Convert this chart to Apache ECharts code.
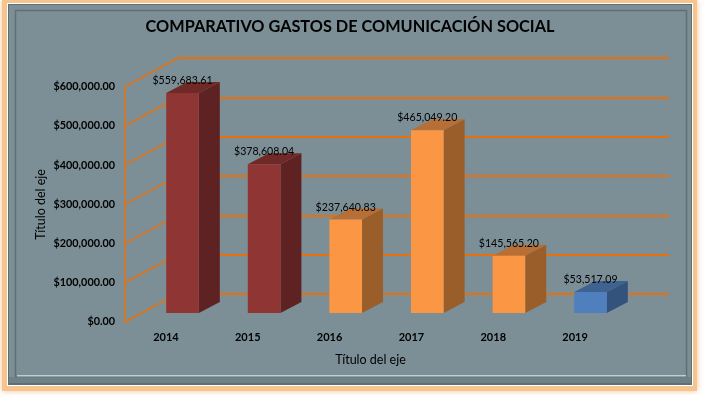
<!DOCTYPE html>
<html>
<head>
<meta charset="utf-8">
<style>html,body{margin:0;padding:0;background:#fff}#c{width:705px;height:395px}</style>
<script src="https://cdn.jsdelivr.net/npm/echarts@6/dist/echarts.min.js"></script>
</head>
<body>
<div id="c"></div>
<script>
var categories = ['2014','2015','2016','2017','2018','2019'];
var values = [559683.61,378608.04,237640.83,465049.20,145565.20,53517.09];
var tickValues = [0,100000,200000,300000,400000,500000,600000];
var frontFaces = ['#8F3533','#8F3533','#FB9644','#FB9644','#FB9644','#4F7FBD'];
var sideFaces = ['#5E2222','#5E2222','#9A5E2B','#9A5E2B','#9A5E2B','#33527C'];
var topFaces = ['#6F2A28','#6F2A28','#B66F36','#B66F36','#B66F36','#3E6391'];
var titleText = 'COMPARATIVO GASTOS DE COMUNICACIÓN SOCIAL';
var axisTitle = 'Título del eje';

var FONT = 'Lato';
var ORANGE = '#E8700C';
var front = {left:125, top:86.7, width:491, height:235.3};
var back = {left:178, top:58, width:491, height:236};
var barPlane = {left:141.7, top:77.2, width:489.6, height:235.8};
var BAR_DX = 21, BAR_DY = 11;

function money(v){
  return '$' + v.toLocaleString('en-US',{minimumFractionDigits:2,maximumFractionDigits:2});
}

var frame = [
  {type:'rect', z:-10, shape:{x:2,y:0,width:695,height:391}, style:{fill:'#F6C48F', shadowBlur:6, shadowColor:'rgba(240,170,100,0.7)'}},
  {type:'rect', z:-9, shape:{x:7,y:3,width:686,height:383}, style:{fill:'#FFFFFF'}},
  {type:'rect', z:-8, shape:{x:8,y:4,width:684,height:381}, style:{fill:'#5E6F74'}},
  {type:'rect', z:-7, shape:{x:9,y:5,width:682,height:378}, style:{fill:'#7C8F96'}},
  {type:'rect', z:-7, shape:{x:9,y:377,width:682,height:6}, style:{fill:'#6F8187'}},
  {type:'rect', z:-6, shape:{x:15.5,y:10.5,width:671,height:366}, style:{fill:'none', stroke:'#5F7075', lineWidth:1.5}},
  {type:'rect', z:-5, shape:{x:17,y:375,width:669,height:1.5}, style:{fill:'#B9D0D6'}}
];

function renderConnector(params, api){
  var p = api.coord([0, api.value(1)]);
  var x0 = params.coordSys.x;
  return {type:'line', shape:{x1:x0, y1:p[1], x2:x0 + back.left - front.left, y2:p[1] + back.top - front.top},
    style:{stroke:ORANGE, lineWidth:1.5, fill:'none'}};
}

function renderBar(params, api){
  var i = api.value(0), v = api.value(1);
  var top = api.coord([i, v]), base = api.coord([i, 0]);
  var w = api.size([1,0])[0] * 0.4;
  var x0 = top[0] - w/2, x1 = top[0] + w/2, y0 = top[1], y1 = base[1];
  return {type:'group', children:[
    {type:'polygon', shape:{points:[[x1,y0],[x1+BAR_DX,y0-BAR_DY],[x1+BAR_DX,y1-BAR_DY],[x1,y1]]}, style:{fill:sideFaces[i]}},
    {type:'polygon', shape:{points:[[x0,y0],[x0+BAR_DX,y0-BAR_DY],[x1+BAR_DX,y0-BAR_DY],[x1,y0]]}, style:{fill:topFaces[i]}},
    {type:'rect', shape:{x:x0,y:y0,width:w,height:y1-y0}, style:{fill:frontFaces[i]}},
    {type:'text', x:top[0], y:y0-12.5, style:{text:money(values[i]), fill:'#000', font:'10.6px '+FONT, align:'center', verticalAlign:'middle'}}
  ]};
}

var chart = echarts.init(document.getElementById('c'), null, {renderer:'canvas'});
chart.setOption({
  animation:false,
  backgroundColor:'#fff',
  graphic:frame,
  title:{text:titleText, left:345, top:14, textAlign:'center',
    textStyle:{fontFamily:FONT, fontSize:16.3, fontWeight:'bold', color:'#000'}},
  grid:[
    Object.assign({}, front),
    Object.assign({}, back),
    Object.assign({}, barPlane)
  ],
  xAxis:[
    {gridIndex:0, type:'category', data:categories, name:axisTitle, nameLocation:'middle', nameGap:31, nameMoveOverlap:false,
      nameTextStyle:{fontFamily:FONT, fontSize:12.5, color:'#000'},
      axisLine:{show:false}, axisTick:{show:false},
      axisLabel:{fontFamily:FONT, fontSize:11, fontWeight:'bold', color:'#000', margin:10}},
    {gridIndex:1, type:'category', data:categories, show:false},
    {gridIndex:2, type:'category', data:categories, show:false}
  ],
  yAxis:[
    {gridIndex:0, type:'value', min:0, max:600000, interval:100000, name:axisTitle, nameLocation:'middle', nameGap:78, nameRotate:90, nameMoveOverlap:false,
      nameTextStyle:{fontFamily:FONT, fontSize:12.5, color:'#000'},
      axisLine:{show:true, onZero:false, lineStyle:{color:ORANGE, width:1.5}}, axisTick:{show:false}, splitLine:{show:false},
      axisLabel:{fontFamily:FONT, fontSize:10.8, fontWeight:'bold', color:'#000', margin:10, formatter:money}},
    {gridIndex:1, type:'value', min:0, max:600000, interval:100000,
      axisLine:{show:false}, axisTick:{show:false}, axisLabel:{show:false},
      splitLine:{show:true, lineStyle:{color:ORANGE, width:2}}},
    {gridIndex:2, type:'value', min:0, max:600000, interval:100000, show:false, splitLine:{show:false}}
  ],
  series:[
    {type:'custom', name:'connectors', xAxisIndex:0, yAxisIndex:0, clip:false, z:1, silent:true,
      renderItem:renderConnector, data:tickValues.map(function(v){return [0,v];})},
    {type:'custom', name:'gastos', xAxisIndex:2, yAxisIndex:2, clip:false, z:5,
      renderItem:renderBar, data:values.map(function(v,i){return [i,v];})}
  ]
});
</script>
</body>
</html>
